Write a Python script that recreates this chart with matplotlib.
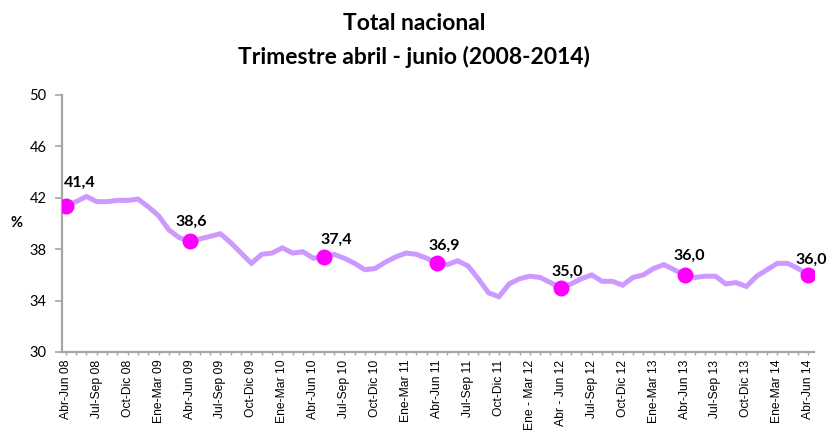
import matplotlib
matplotlib.use("Agg")
import matplotlib.pyplot as plt

# rolling quarters, Abr-Jun 08 ... Abr-Jun 14 (one point per month)
values = [41.4, 41.7, 42.1, 41.7, 41.7, 41.8, 41.8, 41.9, 41.3, 40.6, 39.5, 38.9,
          38.6, 38.8, 39.0, 39.2, 38.5, 37.7, 36.9, 37.6, 37.7, 38.1, 37.7, 37.8,
          37.3, 37.4, 37.6, 37.3, 36.9, 36.4, 36.5, 37.0, 37.4, 37.7, 37.6, 37.3,
          36.9, 36.8, 37.1, 36.7, 35.7, 34.6, 34.3, 35.3, 35.7, 35.9, 35.8, 35.4,
          35.0, 35.3, 35.7, 36.0, 35.5, 35.5, 35.2, 35.8, 36.0, 36.5, 36.8, 36.4,
          36.0, 35.8, 35.9, 35.9, 35.3, 35.4, 35.1, 35.9, 36.4, 36.9, 36.9, 36.5,
          36.0]

tick_labels = ["Abr-Jun 08", "Jul-Sep 08", "Oct-Dic 08", "Ene-Mar 09",
               "Abr-Jun 09", "Jul-Sep 09", "Oct-Dic 09", "Ene-Mar 10",
               "Abr-Jun 10", "Jul-Sep 10", "Oct-Dic 10", "Ene-Mar 11",
               "Abr-Jun 11", "Jul-Sep 11", "Oct-Dic 11", "Ene - Mar 12",
               "Abr - Jun 12", "Jul-Sep 12", "Oct-Dic 12", "Ene-Mar 13",
               "Abr-Jun 13", "Jul-Sep 13", "Oct-Dic 13", "Ene-Mar 14",
               "Abr-Jun 14"]

# highlighted Abr-Jun points and their labels
highlight_idx = [0, 12, 25, 36, 48, 60, 72]
highlight_txt = ["41,4", "38,6", "37,4", "36,9", "35,0", "36,0", "36,0"]

# label offsets in pixels (dx, dy) from the marker
label_offsets = [(14, 23), (2, 20), (13, 17), (7, 18), (6, 16), (5, 19), (3, 15)]


def main():
    fig = plt.figure(figsize=(8.28, 4.30), dpi=100)
    ax = fig.add_axes([0.0745, 0.1814, 0.9085, 0.5977])

    x = list(range(len(values)))
    ax.plot(x, values, color="#CC99FF", lw=3.6, solid_joinstyle="miter", zorder=2)
    hx = highlight_idx
    hy = [values[i] for i in hx]
    ax.plot(hx, hy, ls="none", marker="o", ms=11.5, color="#FF00FF",
            markeredgewidth=0, zorder=3)

    px = 72 / 100
    for i, txt, (dx, dy) in zip(hx, highlight_txt, label_offsets):
        ax.annotate(txt, (i, values[i]), xytext=(dx * px, dy * px),
                    textcoords="offset points", ha="center", va="center",
                    fontsize=11.5, fontweight="bold", family="Lato", color="black")

    ax.set_xlim(-0.4, 72.55)
    ax.set_ylim(30, 50)
    ax.set_yticks([30, 34, 38, 42, 46, 50])
    ax.set_xticks(range(0, 73, 3))
    ax.set_xticklabels(tick_labels, rotation=90, fontsize=8.7, family="Liberation Sans")
    ax.set_xticks(range(73), minor=True)

    for lab in ax.get_yticklabels():
        lab.set_family("Lato")
        lab.set_fontsize(10.5)

    for side in ["top", "right"]:
        ax.spines[side].set_visible(False)
    for side in ["left", "bottom"]:
        ax.spines[side].set_color("#A6A6A6")
        ax.spines[side].set_linewidth(1.6)

    ax.tick_params(axis="y", direction="out", length=4.8, width=1.2, color="#A6A6A6",
                   pad=6)
    ax.tick_params(axis="x", which="both", direction="out", length=2.5, width=1.0,
                   color="#A6A6A6", pad=3)

    fig.text(0.02, 0.482, "%", fontsize=10.5, fontweight="bold", family="Lato",
             ha="center", va="center")

    fig.text(0.5, 1 - 30 / 430, "Total nacional", fontsize=16.5, fontweight="bold",
             family="Lato", ha="center", va="baseline")
    fig.text(0.5, 1 - 64 / 430, "Trimestre abril - junio (2008-2014)", fontsize=16.5,
             fontweight="bold", family="Lato", ha="center", va="baseline")

    fig.savefig("out.png", dpi=100)


if __name__ == "__main__":
    main()
